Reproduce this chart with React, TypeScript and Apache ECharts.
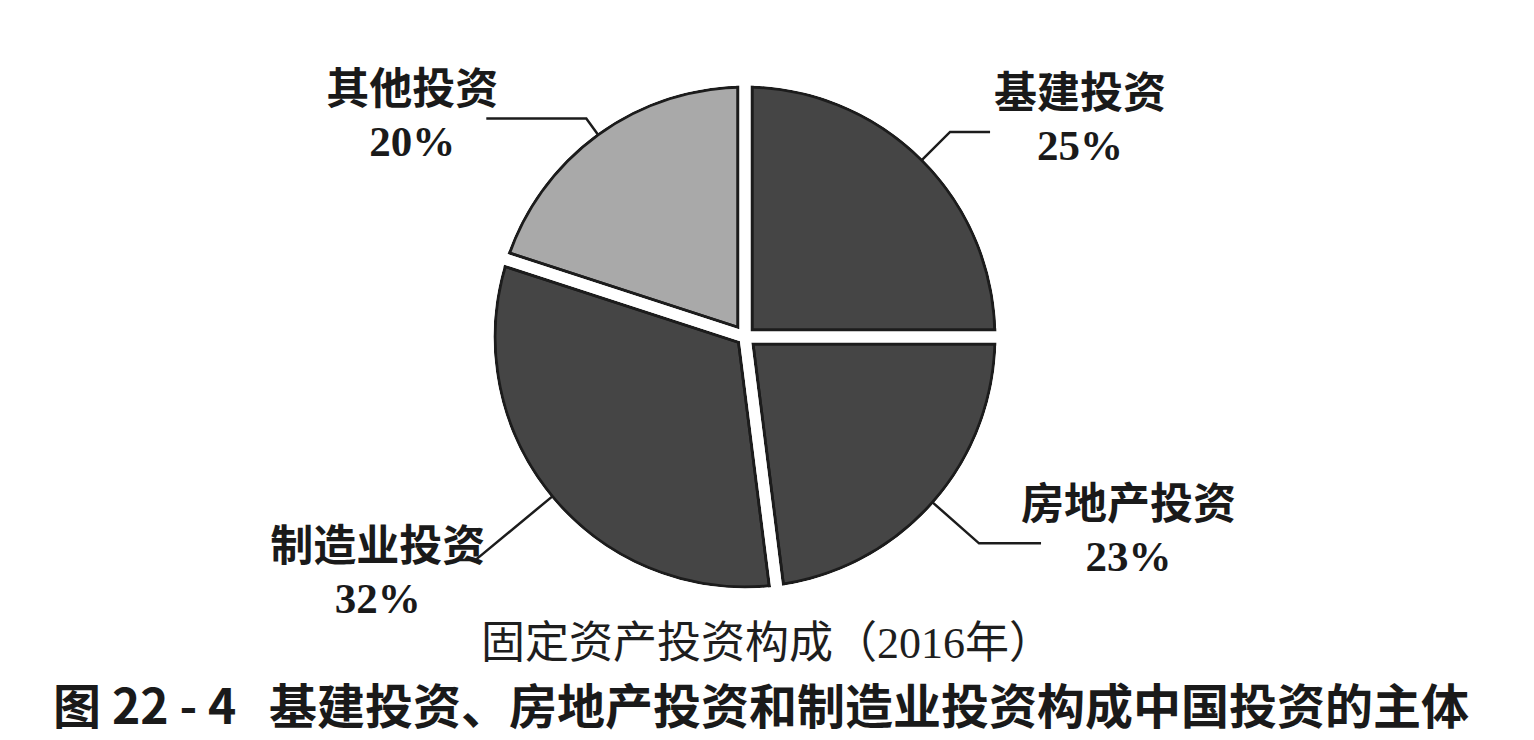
import React, { useEffect, useRef } from "react";
import * as echarts from "echarts";

const categories = ["基建投资", "房地产投资", "制造业投资", "其他投资"];
const shares = [25, 23, 32, 20];
const sliceColors = ["#454545", "#454545", "#454545", "#a9a9a9"];
const lineLen = [40, 62, 100, 20];
const lineLen2 = [40, 62, 16, 100];
const labelGap = [4, -20, -26, -12];
const labelPadTop = [0, 0, 24, 0];
const labelPadBottom = [24, 26, 0, 6];
const subtitle = "固定资产投资构成（2016年）";
const caption = "图 22 - 4   基建投资、房地产投资和制造业投资构成中国投资的主体";

const serif = '"Liberation Serif", "DejaVu Serif", "Noto Sans CJK SC", serif';
const CENTER = [745, 337];
const R = 250;
const GAP = 11;
const EDGE = 3;
const DARK = "#1c1c1c";

export default function App() {
  const ref = useRef<HTMLDivElement>(null);
  useEffect(() => {
    document.body.style.margin = "0";
    const chart = echarts.init(ref.current!, null, { renderer: "svg" });
    const base = {
      type: "pie",
      center: CENTER,
      startAngle: 90,
      clockwise: true,
      silent: true,
      avoidLabelOverlap: false,
      emphasis: { disabled: true },
      label: { show: false },
      labelLine: { show: false },
      z: 2,
    };
    const plain = (color: (i: number) => string) =>
      categories.map((name, i) => ({ name, value: shares[i], itemStyle: { color: color(i) } }));

    chart.setOption({
      animation: false,
      backgroundColor: "#ffffff",
      title: [
        {
          text: subtitle,
          left: "center",
          top: 616,
          textStyle: { fontFamily: serif, fontSize: 44, fontWeight: "normal", color: "#1e1e1e" },
        },
        {
          text: caption,
          left: 48,
          top: 674,
          textStyle: { fontFamily: '"Noto Sans CJK SC", sans-serif', fontSize: 48, fontWeight: "bold", color: "#1a1a1a" },
        },
      ],
      series: [
        {
          ...base,
          name: "fill",
          radius: R,
          itemStyle: { borderColor: DARK, borderWidth: EDGE },
          data: plain((i) => sliceColors[i]),
        },
        {
          ...base,
          name: "edgeDark",
          radius: R + 14,
          itemStyle: { borderColor: DARK, borderWidth: GAP + 2 * EDGE, borderJoin: "round" },
          data: plain(() => "rgba(0,0,0,0)"),
        },
        {
          ...base,
          name: "trim",
          radius: [R + EDGE / 2, R + 60],
          itemStyle: { color: "#ffffff", borderWidth: 0 },
          data: [{ name: "trim", value: 1 }],
        },
        {
          ...base,
          name: "gapWhite",
          radius: R + 14,
          itemStyle: { borderColor: "#ffffff", borderWidth: GAP, borderJoin: "round" },
          data: plain(() => "rgba(0,0,0,0)"),
        },
        {
          ...base,
          name: "labels",
          z: 10,
          radius: R,
          itemStyle: { borderWidth: 0 },
          label: {
            show: true,
            position: "outside",
            formatter: "{a|{b}}\n{a|{d}%}",
            color: "#1a1a1a",
            fontFamily: serif,
            fontSize: 43,
            fontWeight: "bold",
            lineHeight: 52,
            rich: {
              a: { align: "center", fontFamily: serif, fontSize: 43, fontWeight: "bold", lineHeight: 52, color: "#1a1a1a" },
            },
          },
          labelLine: { show: true, lineStyle: { color: DARK, width: 2.5 } },
          data: categories.map((name, i) => ({
            name,
            value: shares[i],
            itemStyle: { color: "rgba(0,0,0,0)" },
            labelLine: { length: lineLen[i], length2: lineLen2[i] },
            label: {
              distanceToLabelLine: labelGap[i],
              padding: [labelPadTop[i], 0, labelPadBottom[i], 0],
            },
          })),
        },
      ],
    });
    return () => chart.dispose();
  }, []);
  return <div ref={ref} style={{ width: 1534, height: 740 }} />;
}
